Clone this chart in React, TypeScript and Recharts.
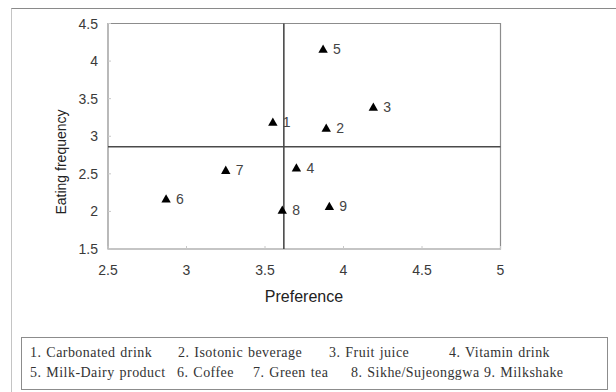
import React from "react";
import {
  ScatterChart,
  Scatter,
  XAxis,
  YAxis,
  ReferenceLine,
  ReferenceArea,
} from "recharts";

const itemIds = ["1", "2", "3", "4", "5", "6", "7", "8", "9"];
const preference = [3.55, 3.89, 4.19, 3.7, 3.87, 2.87, 3.25, 3.61, 3.91];
const eatingFrequency = [3.19, 3.11, 3.39, 2.58, 4.16, 2.17, 2.55, 2.02, 2.07];
const xTicks = [2.5, 3, 3.5, 4, 4.5, 5];
const yTicks = [1.5, 2, 2.5, 3, 3.5, 4, 4.5];
const meanPreference = 3.62;
const meanFrequency = 2.86;

const legendRow1 = [
  "1. Carbonated drink",
  "2. Isotonic beverage",
  "3. Fruit juice",
  "4. Vitamin drink",
];
const legendRow2 = [
  "5. Milk-Dairy product",
  "6. Coffee",
  "7. Green tea",
  "8. Sikhe/Sujeonggwa",
  "9. Milkshake",
];
const legendRow1Left = [30, 178, 329, 449];
const legendRow2Left = [30, 177, 253, 351, 484];

const data = itemIds.map((id, i) => ({
  id,
  x: preference[i],
  y: eatingFrequency[i],
}));

const tickFont = "'Liberation Sans', Arial, sans-serif";

const TriangleShape = (props: any) => {
  const { cx, cy, payload } = props;
  if (cx == null || cy == null) return null;
  const pts = `${cx},${cy - 4.5} ${cx - 4.7},${cy + 3.8} ${cx + 4.7},${cy + 3.8}`;
  return (
    <g>
      <polygon points={pts} fill="#000" />
      <text
        x={cx + 10}
        y={cy}
        dy="0.36em"
        fontSize={14}
        fontFamily={tickFont}
        fill="#444"
      >
        {payload.id}
      </text>
    </g>
  );
};

const YTick = (props: any) => {
  const { x, y, payload } = props;
  return (
    <g>
      <line x1={x + 10} x2={x + 13} y1={y} y2={y} stroke="#c8c8c8" />
      <text
        x={x}
        y={y}
        dy="0.36em"
        textAnchor="end"
        fontSize={14}
        fontFamily={tickFont}
        fill="#3a3a3a"
      >
        {payload.value}
      </text>
    </g>
  );
};

const XTick = (props: any) => {
  const { x, y, payload } = props;
  return (
    <g>
      <line x1={x} x2={x} y1={y - 16} y2={y - 19} stroke="#c8c8c8" />
      <text
        x={x}
        y={y}
        dy="0.71em"
        textAnchor="middle"
        fontSize={14}
        fontFamily={tickFont}
        fill="#3a3a3a"
      >
        {payload.value}
      </text>
    </g>
  );
};

const legendText: React.CSSProperties = {
  position: "absolute",
  whiteSpace: "pre",
  fontFamily: "'Liberation Serif', 'Times New Roman', serif",
  fontSize: 14,
  letterSpacing: 0.45,
  wordSpacing: 1,
  color: "#333",
  lineHeight: "16px",
};

export default function App() {
  return (
    <div
      style={{
        position: "absolute",
        left: 0,
        top: 0,
        width: 616,
        height: 392,
        background: "#fff",
        overflow: "hidden",
      }}
    >
      <div
        style={{
          position: "absolute",
          left: 11,
          top: 8,
          width: 620,
          height: 400,
          borderTop: "1.5px solid #8a8a8a",
          borderLeft: "1.5px solid #c4c4c4",
        }}
      />
      <div style={{ position: "absolute", left: 0, top: 0 }}>
        <ScatterChart
          width={616}
          height={392}
          margin={{ top: 23.5, right: 115.5, bottom: 113, left: 0 }}
        >
          <XAxis
            type="number"
            dataKey="x"
            domain={[2.5, 5]}
            ticks={xTicks}
            axisLine={false}
            tickLine={false}
            tickSize={0}
            tickMargin={16}
            height={30}
            tick={<XTick />}
            interval={0}
            label={() => (
              <text
                x={304}
                y={296}
                dy="0.36em"
                textAnchor="middle"
                fontSize={16}
                fontFamily={tickFont}
                fill="#222"
              >
                Preference
              </text>
            )}
          />
          <YAxis
            type="number"
            dataKey="y"
            domain={[1.5, 4.5]}
            ticks={yTicks}
            axisLine={false}
            tickLine={false}
            tickSize={0}
            tickMargin={10}
            width={108}
            tick={<YTick />}
            interval={0}
            label={() => (
              <text
                x={61}
                y={162}
                dy="0.36em"
                textAnchor="middle"
                fontSize={14}
                fontFamily={tickFont}
                fill="#222"
                transform="rotate(-90 61 162)"
              >
                Eating frequency
              </text>
            )}
          />
          <ReferenceArea
            x1={2.5}
            x2={5}
            y1={1.5}
            y2={4.5}
            fill="none"
            stroke="#8c8c8c"
            strokeWidth={1.2}
          />
          <Scatter
            data={data}
            shape={<TriangleShape />}
            isAnimationActive={false}
          />
          <ReferenceLine x={meanPreference} stroke="#4a4a4a" strokeWidth={1.6} />
          <ReferenceLine y={meanFrequency} stroke="#4a4a4a" strokeWidth={1.6} />
        </ScatterChart>
      </div>
      <div
        style={{
          position: "absolute",
          left: 21,
          top: 337,
          width: 587,
          height: 53,
          boxSizing: "border-box",
          border: "1.5px solid #8c8c8c",
        }}
      />
      {legendRow1.map((t, i) => (
        <div key={t} style={{ ...legendText, left: legendRow1Left[i], top: 345 }}>
          {t}
        </div>
      ))}
      {legendRow2.map((t, i) => (
        <div key={t} style={{ ...legendText, left: legendRow2Left[i], top: 365 }}>
          {t}
        </div>
      ))}
    </div>
  );
}
